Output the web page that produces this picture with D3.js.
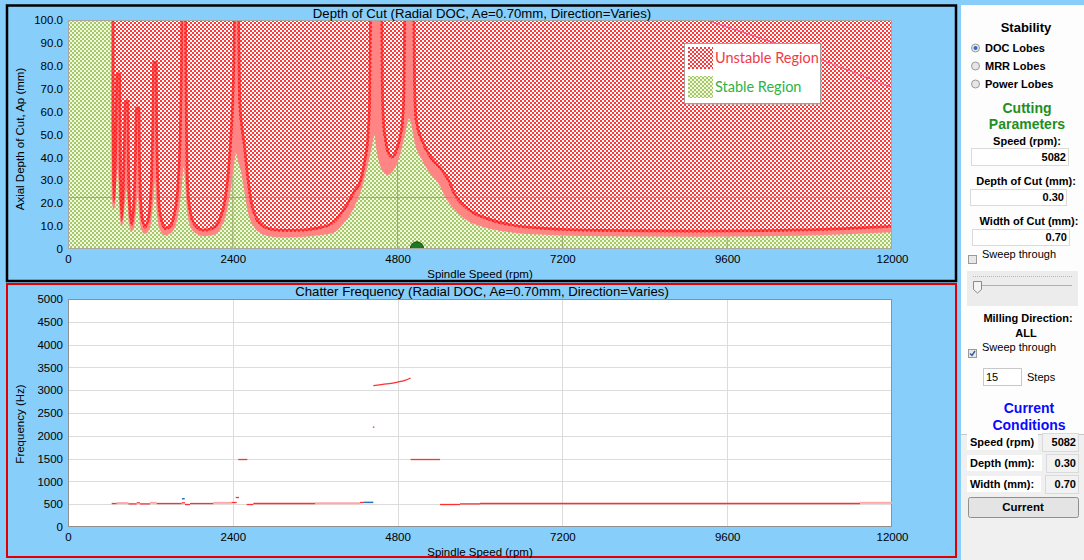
<!DOCTYPE html>
<html>
<head>
<meta charset="utf-8">
<script src="https://cdn.jsdelivr.net/npm/d3@7"></script>
<style>
  body { margin: 0; background: #87cefa; }
  svg { display: block; font-family: "Liberation Sans", Arial, sans-serif; }
  .tick text { font-size: 11.5px; fill: #000; }
</style>
</head>
<body>
<svg id="chart" width="1084" height="560"></svg>
<script>
// ---- data ----
const speedTicks = [0, 2400, 4800, 7200, 9600, 12000];
const depthTicks = [0, 10, 20, 30, 40, 50, 60, 70, 80, 90, 100];
const freqTicks = [0, 500, 1000, 1500, 2000, 2500, 3000, 3500, 4000, 4500, 5000];

// upper edge of the lobe band (rpm, mm) - above it always unstable
const boundaryHigh = [
  [0, 130], [620, 130],
  [636, 100], [640, 50], [646, 28], [656, 22], [672, 20], [692, 24], [710, 38], [724, 58], [732, 76], [735, 60],
  [745, 30], [760, 17], [782, 12], [805, 15.5], [826, 27], [843, 47], [853, 64], [857, 45],
  [870, 24], [892, 14], [928, 10], [962, 13.5], [988, 25], [1004, 43], [1014, 61], [1019, 42],
  [1038, 21], [1068, 12], [1120, 9], [1172, 11], [1212, 18], [1240, 34], [1257, 58], [1266, 81], [1270, 55],
  [1292, 26], [1328, 14], [1420, 8.3], [1500, 9.5], [1568, 15], [1622, 28], [1656, 52], [1674, 85], [1680, 125],
  [1688, 125], [1695, 85], [1706, 50], [1722, 28], [1756, 17], [1825, 10.5], [1970, 7.6], [2120, 8.6], [2230, 13],
  [2310, 22], [2360, 35], [2395, 50], [2420, 65], [2440, 90], [2452, 125],
  [2458, 125], [2468, 90], [2482, 64], [2505, 55], [2545, 46], [2595, 32], [2645, 21], [2720, 13.5], [2820, 9.8],
  [2950, 8.1], [3150, 7.5], [3400, 7.6], [3650, 8.6], [3815, 10], [3950, 13.5], [4060, 18], [4180, 24.5],
  [4282, 30], [4340, 38], [4390, 50], [4413, 65], [4425, 100], [4433, 125],
  [4540, 125], [4550, 100], [4558, 70], [4573, 56], [4602, 48], [4660, 41], [4718, 39.5], [4791, 42], [4849, 48],
  [4893, 56], [4913, 70], [4922, 100], [4930, 125],
  [5005, 125], [5017, 100], [5028, 70], [5053, 56], [5155, 46], [5286, 39], [5417, 34.5], [5519, 30], [5607, 24],
  [5811, 17], [6102, 12.7], [6437, 10], [6874, 8.5], [7748, 7.5], [9204, 7.2], [10660, 7.7], [12000, 9.3]
];

// lower edge of the lobe band (rpm, mm) - below it always stable
const boundaryLow = [
  [0, 130], [615, 130],
  [630, 100], [633, 40], [640, 22], [655, 18], [670, 17.5], [688, 21], [705, 30], [722, 35], [738, 28],
  [748, 18], [762, 12], [782, 10], [805, 12.5], [828, 20], [850, 26], [865, 22],
  [878, 14], [898, 9.5], [928, 7.8], [960, 9.5], [990, 16], [1015, 24], [1030, 18],
  [1050, 11], [1078, 7.8], [1120, 6.6], [1170, 7.8], [1212, 12], [1245, 22], [1268, 30], [1285, 20],
  [1308, 12], [1345, 8], [1420, 6], [1500, 7], [1570, 10.5], [1625, 19], [1665, 30], [1684, 36], [1705, 30],
  [1725, 20], [1760, 12], [1830, 7.5], [1970, 5.6], [2120, 6.2], [2230, 9.5], [2310, 16], [2370, 26], [2415, 36],
  [2445, 42], [2478, 38],
  [2520, 34], [2570, 25], [2620, 16], [2700, 10], [2800, 7], [2950, 5.5], [3150, 5], [3400, 5.2], [3650, 6],
  [3859, 7], [4034, 12], [4180, 19], [4282, 27], [4369, 37], [4427, 45], [4464, 50], [4485, 45], [4514, 40],
  [4573, 34.5], [4660, 32.3], [4762, 35.5], [4835, 41], [4908, 50], [4966, 57], [4995, 55], [5053, 46], [5155, 39],
  [5272, 33], [5359, 30], [5417, 27.5], [5505, 22], [5636, 17], [5782, 13], [6000, 10], [6291, 8], [6874, 6.3],
  [7748, 5.6], [9204, 5.4], [10660, 5.8], [12000, 7.3]
];

// faint limit line in the upper right (rpm, mm)
const limitLine = [[9300, 100], [10029, 92.7], [10849, 84], [11500, 76.5], [12000, 70.5]];
const toolLimit = 22.8;

const currentSpeed = 5082;
const currentDepth = 0.30;
const currentWidth = 0.70;
const sweepSteps = 15;

// chatter frequency pieces: [start rpm, end rpm, Hz]
const chatterRed = [
  [636, 709, 515], [879, 1000, 507], [1000, 1049, 530], [1049, 1194, 507], [1291, 1655, 515], [1655, 1704, 530],
  [1704, 1777, 493], [1777, 2117, 515], [2383, 2456, 537], [2442, 2490, 647], [2602, 2699, 493], [2699, 3597, 515],
  [4252, 4300, 537], [5417, 5709, 493], [5709, 6000, 507], [6000, 11534, 515],
  [2480, 2611, 1480], [4990, 5417, 1480], [4440, 4462, 2190]
];
const chatterPink = [
  [709, 879, 525], [1194, 1291, 530], [2117, 2383, 530], [3597, 4252, 522], [11534, 12000, 530]
];
const chatterBlue = [[1660, 1700, 620], [4300, 4446, 540]];
const chatterUpper = [[4446, 3101], [4641, 3138], [4786, 3174], [4908, 3217], [4990, 3268]];

const topTitle = "Depth of Cut (Radial DOC, Ae=0.70mm, Direction=Varies)";
const bottomTitle = "Chatter Frequency (Radial DOC, Ae=0.70mm, Direction=Varies)";

// ---- drawing ----
const svg = d3.select("#chart");
svg.append("rect").attr("width", 1084).attr("height", 560).attr("fill", "#87cefa");

const defs = svg.append("defs");
function checker(id, c1, c2) {
  const p = defs.append("pattern").attr("id", id)
    .attr("width", 4).attr("height", 4).attr("patternUnits", "userSpaceOnUse");
  p.append("rect").attr("width", 4).attr("height", 4).attr("fill", c2);
  p.append("rect").attr("width", 2).attr("height", 2).attr("fill", c1);
  p.append("rect").attr("x", 2).attr("y", 2).attr("width", 2).attr("height", 2).attr("fill", c1);
}
checker("redHatch", "#ff3a3a", "#ffffff");
checker("greenHatch", "#a6c866", "#f1f8e2");

// frames
svg.append("rect").attr("x", 7).attr("y", 5.5).attr("width", 949).attr("height", 275.5)
  .attr("fill", "none").attr("stroke", "#000").attr("stroke-width", 2.5);
svg.append("rect").attr("x", 7).attr("y", 284).attr("width", 949).attr("height", 273)
  .attr("fill", "none").attr("stroke", "#e00000").attr("stroke-width", 2);

// ---------- top: depth of cut lobes ----------
const x1 = d3.scaleLinear().domain([0, 12000]).range([68, 892]);
const y1 = d3.scaleLinear().domain([0, 100]).range([249, 20]);

defs.append("clipPath").attr("id", "plot1").append("rect")
  .attr("x", 68).attr("y", 20).attr("width", 824).attr("height", 229);

const below = d3.area().x(d => x1(d[0])).y0(y1(0)).y1(d => y1(d[1])).curve(d3.curveMonotoneX);
const above = d3.area().x(d => x1(d[0])).y0(y1(100)).y1(d => y1(d[1])).curve(d3.curveMonotoneX);
const edge = d3.line().x(d => x1(d[0])).y(d => y1(d[1])).curve(d3.curveMonotoneX);

defs.append("clipPath").attr("id", "stable").append("path").attr("d", below(boundaryLow));
defs.append("clipPath").attr("id", "unstable").append("path").attr("d", above(boundaryHigh));

const g1 = svg.append("g").attr("clip-path", "url(#plot1)");
g1.append("rect").attr("x", 68).attr("y", 20).attr("width", 824).attr("height", 229)
  .attr("fill", "url(#redHatch)");
g1.append("path").attr("d", below(boundaryHigh)).attr("fill", "#ff8585");
g1.append("path").attr("d", below(boundaryLow)).attr("fill", "url(#greenHatch)");

g1.append("g").attr("clip-path", "url(#stable)")
  .selectAll("line").data(speedTicks.slice(1, -1)).join("line")
  .attr("x1", d => x1(d)).attr("x2", d => x1(d)).attr("y1", y1(100)).attr("y2", y1(0))
  .attr("stroke", "#9aa870").attr("stroke-width", 1);
g1.append("line").attr("x1", x1(0)).attr("x2", x1(12000))
  .attr("y1", Math.round(y1(toolLimit)) + 0.5).attr("y2", Math.round(y1(toolLimit)) + 0.5)
  .attr("stroke", "#8c9a5a").attr("stroke-opacity", 0.7);

g1.append("g").attr("clip-path", "url(#unstable)").append("path")
  .attr("d", edge(boundaryHigh)).attr("fill", "none")
  .attr("stroke", "#ff1a1a").attr("stroke-opacity", 0.75).attr("stroke-width", 5.5)
  .attr("stroke-linejoin", "round");

g1.append("path").attr("d", edge(limitLine))
  .attr("fill", "none").attr("stroke", "#ff4f9a").attr("stroke-width", 1);

g1.append("circle").attr("cx", x1(currentSpeed)).attr("cy", y1(currentDepth)).attr("r", 6.5)
  .attr("fill", "#1f7a1f").attr("stroke", "#0b4a0b").attr("stroke-width", 1);

svg.append("rect").attr("x", 68.5).attr("y", 20.5).attr("width", 823).attr("height", 228)
  .attr("fill", "none").attr("stroke", "#a8a8a0");

svg.append("g").attr("transform", "translate(0,249)")
  .call(d3.axisBottom(x1).tickValues(speedTicks).tickSize(0).tickPadding(6).tickFormat(d3.format("d")))
  .call(g => g.select(".domain").remove());
svg.append("g").attr("transform", "translate(68,0)")
  .call(d3.axisLeft(y1).tickValues(depthTicks).tickSize(0).tickPadding(5)
    .tickFormat(d => d === 0 ? "0" : d.toFixed(1)))
  .call(g => g.select(".domain").remove());

svg.append("text").attr("x", 482).attr("y", 17.5).attr("text-anchor", "middle")
  .attr("font-size", 13.2).text(topTitle);
svg.append("text").attr("x", 480).attr("y", 278).attr("text-anchor", "middle")
  .attr("font-size", 11.5).text("Spindle Speed (rpm)");
svg.append("text").attr("transform", "translate(24,139) rotate(-90)").attr("text-anchor", "middle")
  .attr("font-size", 11.5).text("Axial Depth of Cut, Ap (mm)");

// legend
const lg = svg.append("g").attr("transform", "translate(684,43)");
lg.append("rect").attr("x", 1.5).attr("y", 1.5).attr("width", 136).attr("height", 60).attr("fill", "#bbb");
lg.append("rect").attr("x", 0.5).attr("y", 0.5).attr("width", 136).attr("height", 60)
  .attr("fill", "#fff").attr("stroke", "#a0a0a0");
lg.append("rect").attr("x", 4).attr("y", 4).attr("width", 25).attr("height", 22).attr("fill", "url(#redHatch)");
lg.append("rect").attr("x", 4).attr("y", 33).attr("width", 25).attr("height", 22).attr("fill", "url(#greenHatch)");
lg.append("text").attr("x", 31).attr("y", 20).attr("font-family", "Lato, 'Open Sans', sans-serif")
  .attr("font-size", 14.5).attr("fill", "#f23a4a").text("Unstable Region");
lg.append("text").attr("x", 31).attr("y", 49).attr("font-family", "Lato, 'Open Sans', sans-serif")
  .attr("font-size", 14.5).attr("fill", "#2cb34a").text("Stable Region");

// ---------- bottom: chatter frequency ----------
const x2 = d3.scaleLinear().domain([0, 12000]).range([68, 892]);
const y2 = d3.scaleLinear().domain([0, 5000]).range([527, 299]);

svg.append("rect").attr("x", 68).attr("y", 299).attr("width", 824).attr("height", 228).attr("fill", "#fff");
const grid2 = svg.append("g");
grid2.selectAll(".hy").data(freqTicks.slice(1, -1)).join("line")
  .attr("x1", 68).attr("x2", 892).attr("y1", d => Math.round(y2(d)) + 0.5).attr("y2", d => Math.round(y2(d)) + 0.5)
  .attr("stroke", "#dcdcdc");
grid2.selectAll(".vx").data(speedTicks.slice(1, -1)).join("line")
  .attr("x1", d => Math.round(x2(d)) + 0.5).attr("x2", d => Math.round(x2(d)) + 0.5).attr("y1", 299).attr("y2", 527)
  .attr("stroke", "#dcdcdc");
svg.append("rect").attr("x", 68.5).attr("y", 299.5).attr("width", 823).attr("height", 227)
  .attr("fill", "none").attr("stroke", "#909090");

const seg = (data, color, w) => svg.append("g").selectAll("line").data(data).join("line")
  .attr("x1", d => x2(d[0])).attr("x2", d => x2(d[1])).attr("y1", d => y2(d[2])).attr("y2", d => y2(d[2]))
  .attr("stroke", color).attr("stroke-width", w);
seg(chatterPink, "#ffa8a8", 2);
seg(chatterRed, "#ff3030", 1.3);
seg(chatterBlue, "#2f6fb0", 1.5);
svg.append("path").attr("d", d3.line().x(d => x2(d[0])).y(d => y2(d[1])).curve(d3.curveMonotoneX)(chatterUpper))
  .attr("fill", "none").attr("stroke", "#ff3030").attr("stroke-width", 1.3);

svg.append("g").attr("transform", "translate(0,527)")
  .call(d3.axisBottom(x2).tickValues(speedTicks).tickSize(0).tickPadding(6).tickFormat(d3.format("d")))
  .call(g => g.select(".domain").remove());
svg.append("g").attr("transform", "translate(68,0)")
  .call(d3.axisLeft(y2).tickValues(freqTicks).tickSize(0).tickPadding(5).tickFormat(d3.format("d")))
  .call(g => g.select(".domain").remove());

svg.append("text").attr("x", 482).attr("y", 295.5).attr("text-anchor", "middle")
  .attr("font-size", 13.2).text(bottomTitle);
svg.append("text").attr("x", 480).attr("y", 556).attr("text-anchor", "middle")
  .attr("font-size", 11.5).text("Spindle Speed (rpm)");
svg.append("text").attr("transform", "translate(24,424) rotate(-90)").attr("text-anchor", "middle")
  .attr("font-size", 11.5).text("Frequency (Hz)");

// ---------- right control panel ----------
const p = svg.append("g");
p.append("rect").attr("x", 961).attr("y", 5).attr("width", 123).attr("height", 555).attr("fill", "#f0f0f0");
p.append("rect").attr("x", 961).attr("y", 5).attr("width", 123).attr("height", 429).attr("fill", "#fdfdfd");
p.append("line").attr("x1", 961).attr("x2", 1084).attr("y1", 434.5).attr("y2", 434.5).attr("stroke", "#c8c8c8");

const txt = (s, x, y, o = {}) => p.append("text").attr("x", x).attr("y", y)
  .attr("text-anchor", o.anchor || "start").attr("font-size", o.size || 11)
  .attr("font-weight", o.weight || "bold").attr("fill", o.fill || "#000").text(s);

txt("Stability", 1026, 32, {anchor: "middle", size: 13});
[["DOC Lobes", 48, true], ["MRR Lobes", 66, false], ["Power Lobes", 84, false]].forEach(([s, y, on]) => {
  p.append("circle").attr("cx", 975.5).attr("cy", y).attr("r", 4).attr("fill", "#e6e6e6").attr("stroke", "#9a9a9a");
  if (on) p.append("circle").attr("cx", 975.5).attr("cy", y).attr("r", 2).attr("fill", "#2a6ec8");
  txt(s, 985, y + 4);
});
txt("Cutting", 1027, 113, {anchor: "middle", size: 14, fill: "#1f8f1f"});
txt("Parameters", 1027, 129, {anchor: "middle", size: 14, fill: "#1f8f1f"});

const box = (x, y, w, h, val, fill) => {
  p.append("rect").attr("x", x + 0.5).attr("y", y + 0.5).attr("width", w).attr("height", h)
    .attr("fill", fill || "#fff").attr("stroke", "#dadada");
  txt(val, x + w - 2, y + h / 2 + 4, {anchor: "end"});
};
txt("Speed (rpm):", 1027, 145, {anchor: "middle"});
box(971, 148, 97, 17, String(currentSpeed));
txt("Depth of Cut (mm):", 1026, 185, {anchor: "middle"});
box(970, 189, 96, 16, currentDepth.toFixed(2));
txt("Width of Cut (mm):", 1029, 225, {anchor: "middle"});
box(972, 229, 97, 16, currentWidth.toFixed(2));

const check = (x, y, on) => {
  p.append("rect").attr("x", x + 0.5).attr("y", y + 0.5).attr("width", 8).attr("height", 8)
    .attr("fill", "#e8e8e8").attr("stroke", "#9a9a9a");
  if (on) p.append("path").attr("d", `M${x + 2},${y + 4.5} L${x + 4},${y + 6.5} L${x + 7},${y + 2}`)
    .attr("fill", "none").attr("stroke", "#2a5aa8").attr("stroke-width", 1.4);
};
check(968, 255, false);
txt("Sweep through", 982, 258, {weight: "normal"});

p.append("rect").attr("x", 967).attr("y", 271).attr("width", 111).attr("height", 35).attr("fill", "#ececec");
p.append("line").attr("x1", 973).attr("x2", 1072).attr("y1", 276.5).attr("y2", 276.5)
  .attr("stroke", "#b8b8b8").attr("stroke-dasharray", "1,1");
p.append("line").attr("x1", 973).attr("x2", 1072).attr("y1", 285.5).attr("y2", 285.5).attr("stroke", "#b0b0b0");
p.append("path").attr("d", "M973.5,281.5 h8 v8 l-4,3.5 l-4,-3.5 z").attr("fill", "#f4f4f4").attr("stroke", "#8a8a8a");

txt("Milling Direction:", 1028, 322, {anchor: "middle"});
txt("ALL", 1026, 337, {anchor: "middle"});
check(968, 349, true);
txt("Sweep through", 982, 351, {weight: "normal"});
p.append("rect").attr("x", 983.5).attr("y", 368.5).attr("width", 38).attr("height", 17).attr("fill", "#fff").attr("stroke", "#c8c8c8");
txt(String(sweepSteps), 986, 381, {weight: "normal"});
txt("Steps", 1027, 381, {weight: "normal"});

txt("Current", 1029, 413, {anchor: "middle", size: 14, fill: "#0a0aff"});
txt("Conditions", 1029, 430, {anchor: "middle", size: 14, fill: "#0a0aff"});

[["Speed (rpm)", 442, String(currentSpeed), 1042], ["Depth (mm):", 463, currentDepth.toFixed(2), 1046],
 ["Width (mm):", 484, currentWidth.toFixed(2), 1045]].forEach(([s, y, v, bx]) => {
  p.append("rect").attr("x", 967).attr("y", y - 8).attr("width", bx - 971).attr("height", 16).attr("fill", "#fff");
  txt(s, 970, y + 4);
  box(bx, y - 9, 1078 - bx, 18, v, "#f2f2f2");
});

p.append("rect").attr("x", 968.5).attr("y", 497.5).attr("width", 110).attr("height", 20).attr("rx", 2)
  .attr("fill", "#e4e4e4").attr("stroke", "#8f8f8f");
txt("Current", 1023, 511, {anchor: "middle", size: 11.5});
</script>
</body>
</html>
